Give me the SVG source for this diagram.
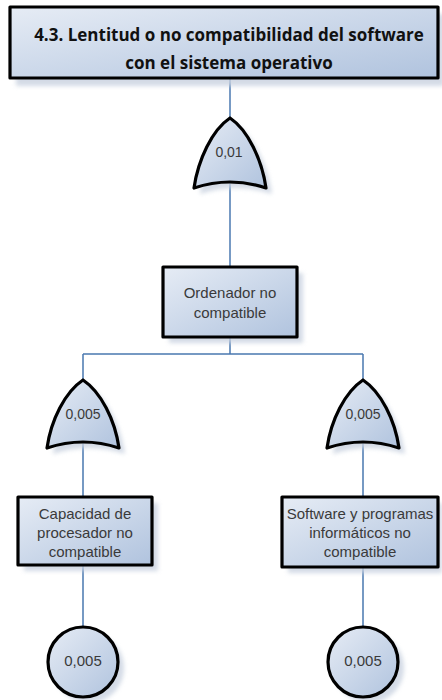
<svg xmlns="http://www.w3.org/2000/svg" width="442" height="700" viewBox="0 0 442 700">
<defs>
<linearGradient id="fill" x1="0" y1="0" x2="1" y2="1">
<stop offset="0" stop-color="#e6ecf5"/>
<stop offset="1" stop-color="#b0c3de"/>
</linearGradient>
<filter id="blur" x="-20%" y="-20%" width="140%" height="140%"><feGaussianBlur stdDeviation="2"/></filter>
</defs>
<style>
.shape{fill:url(#fill);stroke:#000;stroke-width:3.2;stroke-linejoin:round}
.shadow{fill:#c9d2e0;filter:url(#blur);opacity:0.8}
.lbl{font-family:"Liberation Sans",Arial,sans-serif;font-size:15px;fill:#3a3a3a;text-anchor:middle}
.g{font-size:14px}
.title{font-family:"Open Sans","Liberation Sans",sans-serif;font-weight:bold;font-size:17px;fill:#111;text-anchor:middle}
.conn{stroke:#4a78b0;stroke-width:1.5;fill:none}
</style>
<g id="connectors">
<path class="conn" d="M230 78 V267"/>
<path class="conn" d="M230 337 V354 M83 354 H363 M83 354 V497 M363 354 V497"/>
<path class="conn" d="M83 565 V626 M363 567 V626"/>
</g>
<g id="top">
<rect class="shadow" x="16" y="14" width="428" height="72"/>
<rect class="shape" x="10" y="7" width="428" height="71"/>
<text class="title" x="229" y="41">4.3. Lentitud o no compatibilidad del software</text>
<text class="title" x="229" y="69">con el sistema operativo</text>
</g>
<g id="gate1">
<path class="shadow" transform="translate(6,6)" d="M230 118 C248 130 262 160 266 188 Q230 176 194 188 C198 160 212 130 230 118 Z"/>
<path class="shape" d="M230 118 C248 130 262 160 266 188 Q230 176 194 188 C198 160 212 130 230 118 Z"/>
<text class="lbl g" x="229" y="157">0,01</text>
</g>
<g id="ordenador">
<rect class="shadow" x="169" y="273" width="134" height="70"/>
<rect class="shape" x="163" y="267" width="134" height="70"/>
<text class="lbl" x="230" y="298">Ordenador no</text>
<text class="lbl" x="230" y="318">compatible</text>
</g>
<g id="gate2">
<path class="shadow" transform="translate(6,6)" d="M83 380 C101 392 115 420 119 448 Q83 436 47 448 C51 420 65 392 83 380 Z"/>
<path class="shape" d="M83 380 C101 392 115 420 119 448 Q83 436 47 448 C51 420 65 392 83 380 Z"/>
<text class="lbl g" x="83" y="419">0,005</text>
</g>
<g id="gate3">
<path class="shadow" transform="translate(6,6)" d="M363 380 C381 392 395 420 399 448 Q363 436 327 448 C331 420 345 392 363 380 Z"/>
<path class="shape" d="M363 380 C381 392 395 420 399 448 Q363 436 327 448 C331 420 345 392 363 380 Z"/>
<text class="lbl g" x="363" y="419">0,005</text>
</g>
<g id="capacidad">
<rect class="shadow" x="24" y="503" width="134" height="68"/>
<rect class="shape" x="18" y="497" width="134" height="68"/>
<text class="lbl" x="85" y="519">Capacidad de</text>
<text class="lbl" x="85" y="538">procesador no</text>
<text class="lbl" x="85" y="557">compatible</text>
</g>
<g id="software">
<rect class="shadow" x="288" y="503" width="154" height="70"/>
<rect class="shape" x="282" y="497" width="156" height="70"/>
<text class="lbl" x="360" y="519">Software y programas</text>
<text class="lbl" x="360" y="538">informáticos no</text>
<text class="lbl" x="360" y="557">compatible</text>
</g>
<g id="evento1">
<circle class="shadow" cx="89" cy="668" r="35"/>
<circle class="shape" cx="83" cy="662" r="35"/>
<text class="lbl" x="83" y="666">0,005</text>
</g>
<g id="evento2">
<circle class="shadow" cx="369" cy="668" r="35"/>
<circle class="shape" cx="363" cy="662" r="35"/>
<text class="lbl" x="363" y="666">0,005</text>
</g>
</svg>
